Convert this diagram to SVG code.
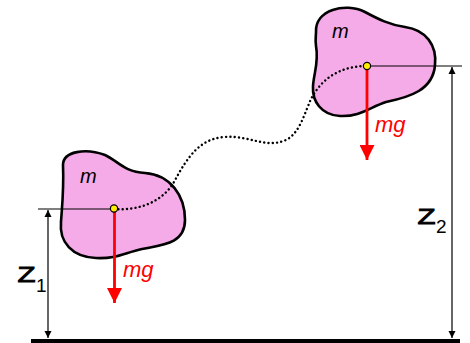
<svg xmlns="http://www.w3.org/2000/svg" width="470" height="343" viewBox="0 0 470 343">
<defs>
<style>
.blob{fill:#f5abe8;stroke:#000;stroke-width:2.6;stroke-linejoin:round}
.thin{stroke:#000;stroke-width:1.2;fill:none}
.path{stroke:#000;stroke-width:2.4;fill:none;stroke-dasharray:0.1 4.2;stroke-linecap:round}
.force{stroke:#f00;stroke-width:2.8;fill:none}
.dot{fill:#ffee00;stroke:#000;stroke-width:1.2}
.lbl{font-family:"Liberation Sans",Arial,sans-serif;font-style:italic}
.z{font-family:"Liberation Sans",Arial,sans-serif;fill:#000}
.zb{stroke:#000;stroke-width:0.9}
</style>
<marker id="ah" viewBox="0 0 10 10" refX="10" refY="5" markerWidth="7" markerHeight="10" markerUnits="userSpaceOnUse" orient="auto-start-reverse">
<path d="M0,0 L10,5 L0,10 Z" fill="#000"/>
</marker>
<marker id="rh" viewBox="0 0 10 10" refX="10" refY="5" markerWidth="22" markerHeight="15" markerUnits="userSpaceOnUse" orient="auto">
<path d="M0,0 L10,5 L0,10 Z" fill="#f00"/>
</marker>
</defs>
<rect width="470" height="343" fill="#fff"/>
<g id="ground"><rect x="31" y="339" width="429" height="4" fill="#000"/></g>
<g id="body1">
<path class="blob" d="M63,165 C63,151 86,148 105,155 C118,161 124,172 145,173 C170,175 185,195 185,220 C185,244 162,245 142,249 C124,253 116,259 96,258 C72,257 59,242 61,222 C62,207 64,190 63,165 Z"/>
<text class="lbl" x="80" y="183" font-size="20">m</text>
</g>
<g id="body2">
<path class="blob" d="M316,32 C315,10 345,2 365,12 C378,19 390,25 405,27 C426,30 437,45 435,65 C433,90 410,97 386,102 C370,107 360,117 340,116 C321,115 312,101 313,86 C314,72 319,62 316,46 C315,40 316,36 316,32 Z"/>
<text class="lbl" x="332" y="38" font-size="20">m</text>
</g>
<g id="connectors">
<path class="path" d="M114,209 C140,211 163,201 174,182 C188,156 200,139 224,137 C250,135 265,149 286,140 C300,133 305,112 311,99 C323,76 343,66 367,66"/>
<line class="thin" x1="38" y1="209" x2="114" y2="209"/>
<line class="thin" x1="367" y1="66" x2="462" y2="66"/>
<line class="thin" x1="48" y1="210" x2="48" y2="338" marker-start="url(#ah)" marker-end="url(#ah)"/>
<line class="thin" x1="452" y1="67" x2="452" y2="338" marker-start="url(#ah)" marker-end="url(#ah)"/>
</g>
<g id="force1">
<line class="force" x1="114.5" y1="211" x2="114.5" y2="303" marker-end="url(#rh)"/>
<text class="lbl" x="123" y="277" font-size="22" fill="#f00">mg</text>
</g>
<g id="force2">
<line class="force" x1="367" y1="69" x2="367" y2="160" marker-end="url(#rh)"/>
<text class="lbl" x="375" y="132" font-size="22" fill="#f00">mg</text>
</g>
<circle class="dot" cx="114" cy="208.5" r="3.6"/>
<circle class="dot" cx="367" cy="66" r="3.6"/>
<g id="z1">
<text class="z zb" x="17.5" y="282" font-size="22.5" textLength="18" lengthAdjust="spacingAndGlyphs">Z</text>
<text class="z" x="36" y="292" font-size="19">1</text>
</g>
<g id="z2">
<text class="z zb" x="417.5" y="224" font-size="22.5" textLength="18" lengthAdjust="spacingAndGlyphs">Z</text>
<text class="z" x="436" y="233" font-size="19">2</text>
</g>
</svg>
